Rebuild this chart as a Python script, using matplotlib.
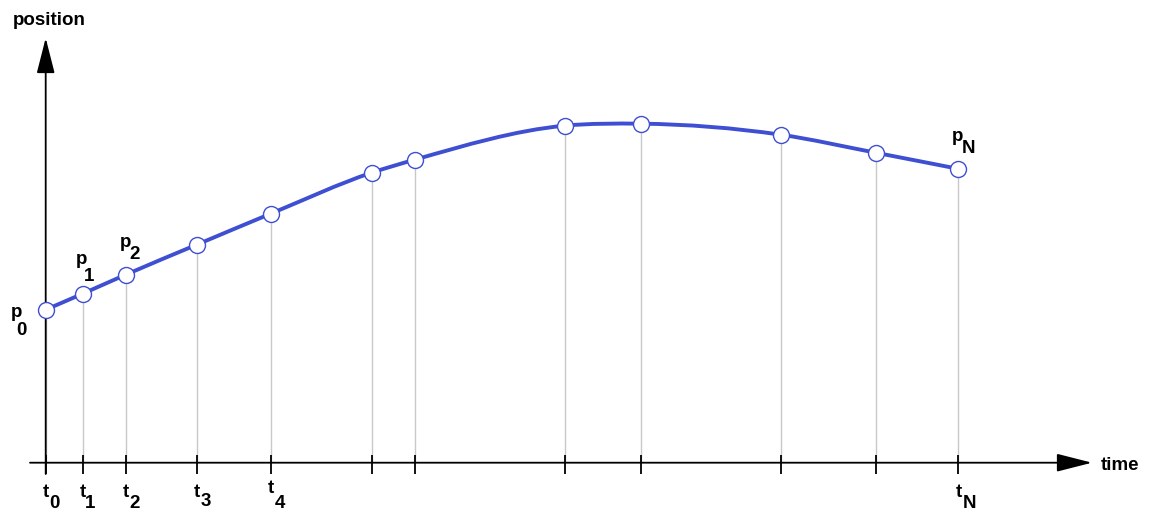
import numpy as np
import matplotlib
matplotlib.use("Agg")
import matplotlib.pyplot as plt
from matplotlib.path import Path
from matplotlib.patches import PathPatch

# ── Data (time, position of the sampled points) ────────────────
times = [0.0, 3.7, 8.0, 15.1, 22.5, 32.6, 36.9, 51.9, 59.5, 73.5, 83.0, 91.2]
positions = [15.3, 16.9, 18.8, 21.8, 24.9, 29.0, 30.3, 33.7, 33.9, 32.8, 31.0, 29.4]

# which points / ticks get a label, and the subscript text
p_label_idx = [0, 1, 2, 11]
p_label_sub = ["0", "1", "2", "N"]
t_label_idx = [0, 1, 2, 3, 4, 11]
t_label_sub = ["0", "1", "2", "3", "4", "N"]

# ── Style ──────────────────────────────────────────────────────
BLUE = "#3f4fd2"
GREY = "#c8c8c8"
FONT = "Liberation Sans"
FS = 13.5

# label offsets in pixels: (base dx, base dy, sub dx, sub dy)
p_offsets = [(-29, -7, -29, -25), (-1.5, 30, 1, 13), (0, 28, 3.5, 16), (0, 28, 4.5, 16)]
t_offsets = [(0, -34.5, 3.5, -45), (0, -34.5, 2.5, -45), (0, -34.5, 3.5, -45),
             (0, -34.5, 3.5, -43), (0, -30.5, 4.5, -45), (1.5, -34, 5, -45.5)]


def smooth_curve(x, y):
    """Cubic Hermite Bezier path through the points."""
    x = np.asarray(x, float)
    y = np.asarray(y, float)
    m = np.gradient(y, x)
    verts = [(x[0], y[0])]
    codes = [Path.MOVETO]
    for i in range(len(x) - 1):
        h = x[i + 1] - x[i]
        verts += [(x[i] + h / 3, y[i] + m[i] * h / 3),
                  (x[i + 1] - h / 3, y[i + 1] - m[i + 1] * h / 3),
                  (x[i + 1], y[i + 1])]
        codes += [Path.CURVE4] * 3
    return Path(verts, codes)


def sub_label(ax, xy, base, sub, off):
    bdx, bdy, sdx, sdy = off
    kw = dict(xycoords="data", textcoords="offset pixels", fontsize=FS,
              fontweight="bold", family=FONT, va="baseline", zorder=5)
    ax.annotate(base, xy=xy, xytext=(bdx, bdy), ha="center", **kw)
    ax.annotate(sub, xy=xy, xytext=(sdx, sdy), ha="left", **kw)


fig = plt.figure(figsize=(11.5, 5.11), dpi=100)
ax = fig.add_axes([0, 0, 1, 1])
ax.set_xlim(-4.57, 110.43)
ax.set_ylim(-4.83, 46.27)
ax.axis("off")

# drop lines and ticks
ax.vlines(times, 0, positions, color=GREY, lw=1.0, zorder=1)
ax.vlines(times, -1.1, 0.8, color="black", lw=1.3, zorder=2)

# axes with arrow heads
arrow = dict(arrowstyle="-|>,head_length=1.1,head_width=0.28", mutation_scale=20,
             lw=1.3, color="black", shrinkA=0, shrinkB=0)
ax.annotate("", xy=(104.63, 0), xytext=(-1.57, 0), arrowprops=arrow, zorder=2)
ax.annotate("", xy=(0, 42.47), xytext=(0, -1.13), arrowprops=arrow, zorder=2)

ax.annotate("position", xy=(0, 42.47), xytext=(-33, 13), textcoords="offset pixels",
            fontsize=FS, fontweight="bold", family=FONT, ha="left", va="baseline")
ax.annotate("time", xy=(104.63, 0), xytext=(9, -7.5), textcoords="offset pixels",
            fontsize=FS, fontweight="bold", family=FONT, ha="left", va="baseline")

# curve and sample points
ax.add_patch(PathPatch(smooth_curve(times, positions), fc="none", ec=BLUE, lw=2.8,
                       capstyle="round", zorder=3))
ax.plot(times, positions, "o", ms=11.5, mfc="white", mec=BLUE, mew=1.0, zorder=4)

for i, s, off in zip(p_label_idx, p_label_sub, p_offsets):
    sub_label(ax, (times[i], positions[i]), "p", s, off)
for i, s, off in zip(t_label_idx, t_label_sub, t_offsets):
    sub_label(ax, (times[i], 0), "t", s, off)

fig.savefig("out.png", dpi=100)
